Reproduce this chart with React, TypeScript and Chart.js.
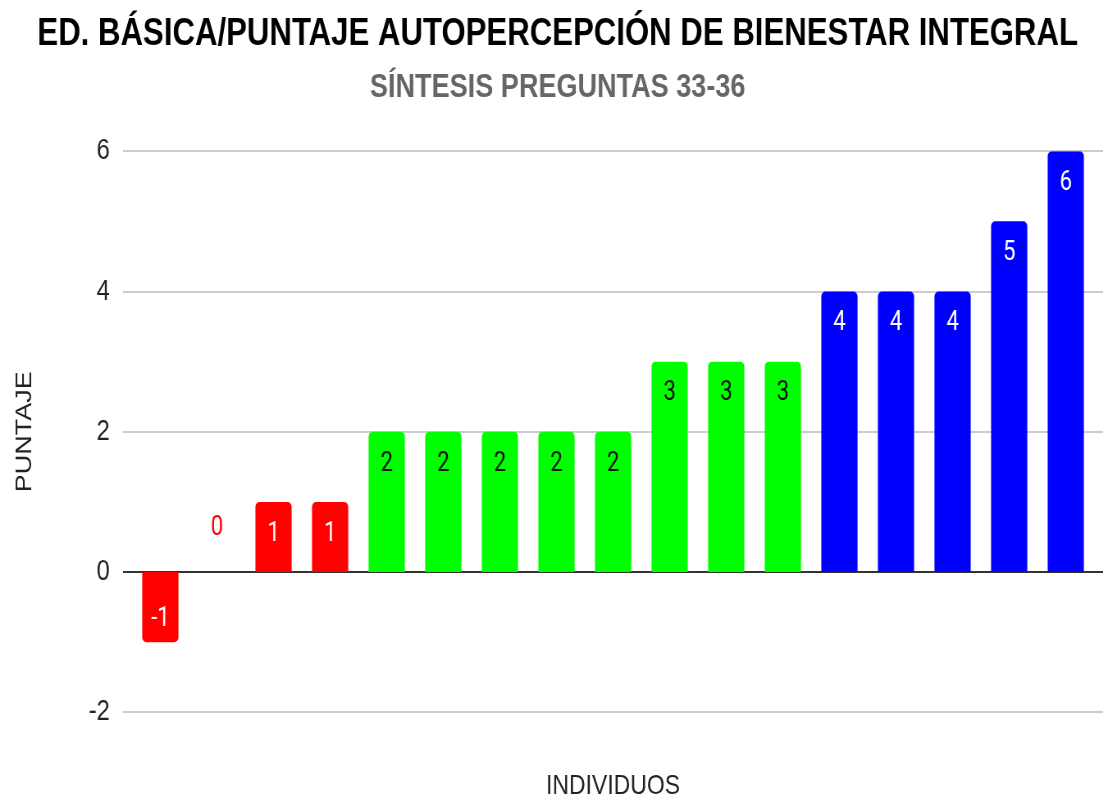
import React, { useEffect, useRef } from "react";
import { Chart, registerables } from "chart.js";

Chart.register(...registerables);

const titleText = "ED. BÁSICA/PUNTAJE AUTOPERCEPCIÓN DE BIENESTAR INTEGRAL";
const subtitleText = "SÍNTESIS PREGUNTAS 33-36";
const yAxisTitle = "PUNTAJE";
const xAxisTitle = "INDIVIDUOS";

const individuals = ["1", "2", "3", "4", "5", "6", "7", "8", "9", "10", "11", "12", "13", "14", "15", "16", "17"];
const scores = [-1, 0, 1, 1, 2, 2, 2, 2, 2, 3, 3, 3, 4, 4, 4, 5, 6];
const yTicks = [-2, 0, 2, 4, 6];

const RED = "#ff0000";
const GREEN = "#00ff00";
const BLUE = "#0000ff";

function barColor(v: number): string {
  if (v <= 1) return RED;
  if (v <= 3) return GREEN;
  return BLUE;
}
function labelColor(v: number): string {
  if (v === 0) return RED;
  if (v <= 1) return "#ffffff";
  if (v <= 3) return "#111111";
  return "#ffffff";
}

// The reference is horizontally compressed; render wider and squeeze with CSS.
const VIEW_W = 1108;
const VIEW_H = 803;
const CANVAS_W = 1351;
const SQUEEZE = VIEW_W / CANVAS_W;

const SANS = "'Liberation Sans', Arial, Helvetica, sans-serif";

const gridPlugin = {
  id: "customGrid",
  beforeDatasetsDraw(chart: any) {
    const { ctx, chartArea, scales } = chart;
    const y = scales.y;
    ctx.save();
    for (const t of yTicks) {
      const py = Math.round(y.getPixelForValue(t));
      ctx.beginPath();
      ctx.strokeStyle = t === 0 ? "#333333" : "#cccccc";
      ctx.lineWidth = 2;
      ctx.moveTo(chartArea.left - 11, py);
      ctx.lineTo(chartArea.right + 11, py);
      ctx.stroke();
    }
    ctx.restore();
  },
};

const labelPlugin = {
  id: "valueLabels",
  afterDatasetsDraw(chart: any) {
    const { ctx, scales } = chart;
    const meta = chart.getDatasetMeta(0);
    const y = scales.y;
    const zero = y.getPixelForValue(0);
    ctx.save();
    ctx.font = "27px Roboto, 'Noto Sans', sans-serif";
    ctx.textAlign = "center";
    ctx.textBaseline = "middle";
    meta.data.forEach((bar: any, i: number) => {
      const v = scores[i];
      let py: number;
      if (v > 0) py = bar.y + 31;
      else if (v < 0) py = bar.y - 24;
      else py = zero - 45;
      ctx.fillStyle = labelColor(v);
      ctx.fillText(String(v), bar.x, py + 1);
    });
    ctx.restore();
  },
};

export default function App() {
  const ref = useRef<HTMLCanvasElement | null>(null);

  useEffect(() => {
    document.body.style.margin = "0";
    const canvas = ref.current;
    if (!canvas) return;
    const chart = new Chart(canvas, {
      type: "bar",
      data: {
        labels: individuals,
        datasets: [
          {
            data: scores,
            backgroundColor: scores.map(barColor),
            borderRadius: 5,
            borderSkipped: "start",
            barPercentage: 0.64,
            categoryPercentage: 1,
          },
        ],
      },
      options: {
        responsive: false,
        animation: false,
        layout: { padding: { left: 26, right: 17, top: 0, bottom: 0 } },
        plugins: {
          legend: { display: false },
          tooltip: { enabled: false },
          title: {
            display: true,
            text: titleText,
            color: "#000000",
            font: { family: SANS, size: 38, weight: "bold" },
            padding: { top: 12, bottom: 11 },
          },
          subtitle: {
            display: true,
            text: subtitleText,
            color: "#666666",
            font: { family: SANS, size: 33, weight: "bold" },
            padding: { top: 0, bottom: 43 },
          },
        },
        scales: {
          x: {
            type: "category",
            grid: { display: false },
            border: { display: false },
            ticks: { display: false },
            title: {
              display: true,
              text: xAxisTitle,
              color: "#222222",
              font: { family: SANS, size: 28 },
              padding: { top: 49, bottom: 0 },
            },
          },
          y: {
            min: -2,
            max: 6,
            afterBuildTicks(scale: any) {
              scale.ticks = yTicks.map((v) => ({ value: v }));
            },
            afterFit(scale: any) {
              scale.width = 135;
            },
            grid: { display: false },
            border: { display: false },
            ticks: {
              color: "#222222",
              font: { family: SANS, size: 29 },
              padding: 19,
            },
            title: {
              display: true,
              text: yAxisTitle,
              color: "#222222",
              font: { family: SANS, size: 27 },
              padding: { top: -12, bottom: 0 },
            },
          },
        },
      },
      plugins: [gridPlugin, labelPlugin],
    });
    return () => chart.destroy();
  }, []);

  return (
    <div style={{ width: VIEW_W, height: VIEW_H, overflow: "hidden", background: "#ffffff" }}>
      <div style={{ width: CANVAS_W, height: VIEW_H, transform: `scaleX(${SQUEEZE})`, transformOrigin: "0 0" }}>
        <canvas ref={ref} width={CANVAS_W} height={VIEW_H} />
      </div>
    </div>
  );
}
